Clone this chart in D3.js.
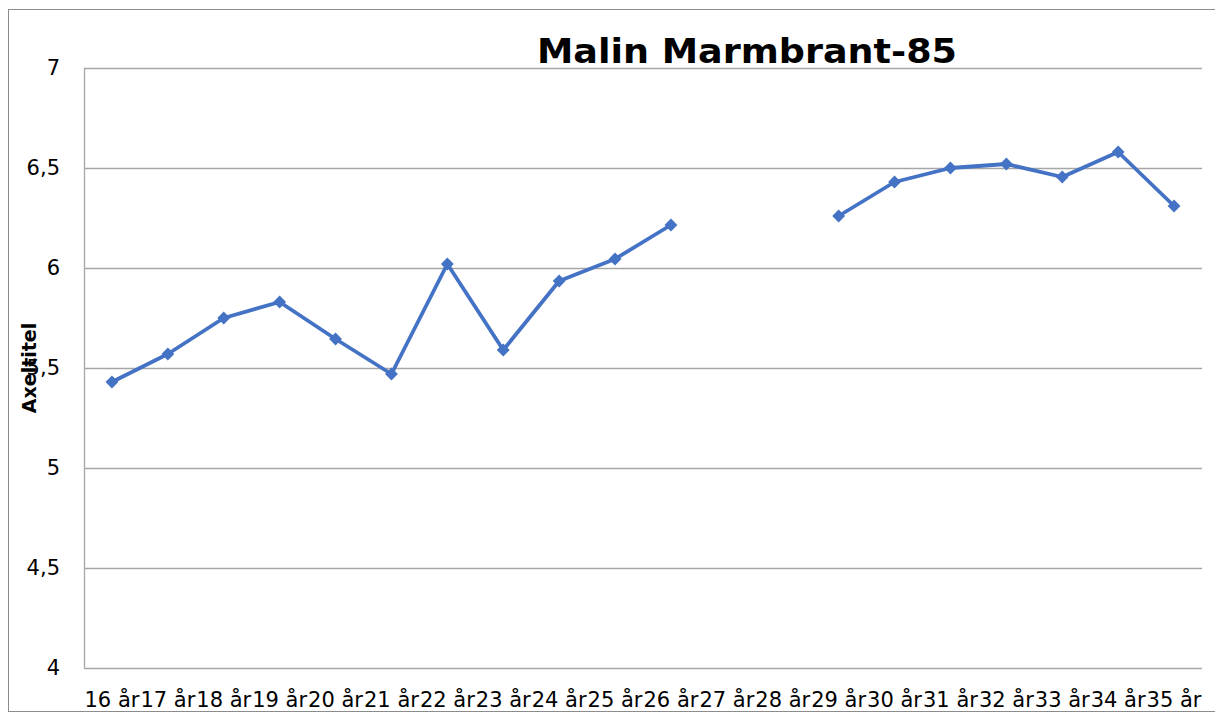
<!DOCTYPE html>
<html>
<head>
<meta charset="utf-8">
<script src="https://cdn.jsdelivr.net/npm/d3@7"></script>
<style>
  body { margin: 0; background: #fff; }
  text { font-family: "DejaVu Sans", sans-serif; fill: #000; }
</style>
</head>
<body>
<svg id="chart" width="1215" height="713"></svg>
<script>
// data
const ages = ["16 år","17 år","18 år","19 år","20 år","21 år","22 år","23 år","24 år","25 år",
              "26 år","27 år","28 år","29 år","30 år","31 år","32 år","33 år","34 år","35 år"];
const values = [5.43, 5.57, 5.75, 5.83, 5.645, 5.47, 6.02, 5.59, 5.935, 6.045,
                6.215, null, null, 6.26, 6.43, 6.5, 6.52, 6.455, 6.58, 6.31];
const yTicks = [4, 4.5, 5, 5.5, 6, 6.5, 7];

const margin = {top: 68, right: 13, bottom: 45, left: 84};
const W = 1215, H = 713;
const width = W - margin.left - margin.right;
const height = H - margin.top - margin.bottom;

const svg = d3.select("#chart");

// outer frame
svg.append("rect")
  .attr("x", 8.5).attr("y", 9.5)
  .attr("width", 1230).attr("height", 702)
  .attr("fill", "none").attr("stroke", "#8c8c8c").attr("stroke-width", 1);

const x = d3.scaleBand().domain(ages).range([0, width]);
const y = d3.scaleLinear().domain([4, 7]).range([height, 0]);

const g = svg.append("g")
  .attr("transform", "translate(" + margin.left + "," + margin.top + ")");

// gridlines
g.append("g")
  .selectAll("line")
  .data(yTicks)
  .enter().append("line")
  .attr("x1", 0).attr("x2", width)
  .attr("y1", d => Math.round(y(d)) + 0.5)
  .attr("y2", d => Math.round(y(d)) + 0.5)
  .attr("stroke", "#a6a6a6").attr("stroke-width", 1.3);

// y axis line
g.append("line")
  .attr("x1", 0.5).attr("x2", 0.5)
  .attr("y1", 0).attr("y2", height)
  .attr("stroke", "#a6a6a6").attr("stroke-width", 1.3);

// y labels
const yAxis = g.append("g")
  .call(d3.axisLeft(y).tickValues(yTicks).tickSize(0).tickPadding(24)
        .tickFormat(d => String(d).replace(".", ",")));
yAxis.select(".domain").remove();
yAxis.selectAll("text").attr("font-size", 21).attr("font-family", "DejaVu Sans").attr("fill", "#000");

// x labels
const xAxis = g.append("g")
  .attr("transform", "translate(0," + height + ")")
  .call(d3.axisBottom(x).tickSize(0).tickPadding(24));
xAxis.select(".domain").remove();
xAxis.selectAll("text").attr("font-size", 21).attr("font-family", "DejaVu Sans").attr("fill", "#000");

// line
const line = d3.line()
  .defined(d => d != null)
  .x((d, i) => x(ages[i]) + x.bandwidth() / 2)
  .y(d => y(d));

g.append("path")
  .datum(values)
  .attr("d", line)
  .attr("fill", "none")
  .attr("stroke", "#4472c4")
  .attr("stroke-width", 3.8)
  .attr("stroke-linejoin", "round");

const pts = values.map((v, i) => ({age: ages[i], v: v})).filter(d => d.v != null);
g.selectAll("path.marker")
  .data(pts)
  .enter().append("path")
  .attr("class", "marker")
  .attr("d", d3.symbol().type(d3.symbolDiamond2).size(105))
  .attr("transform", d => "translate(" + (x(d.age) + x.bandwidth() / 2) + "," + y(d.v) + ")")
  .attr("fill", "#4472c4");

// title
svg.append("text")
  .attr("x", 747).attr("y", 63)
  .attr("text-anchor", "middle")
  .attr("font-size", 34).attr("font-weight", "bold")
  .attr("textLength", 420).attr("lengthAdjust", "spacingAndGlyphs")
  .text("Malin Marmbrant-85");

// axis title
svg.append("text")
  .attr("transform", "translate(36,368) rotate(-90)")
  .attr("text-anchor", "middle")
  .attr("font-size", 19).attr("font-weight", "bold")
  .text("Axeltitel");
</script>
</body>
</html>
